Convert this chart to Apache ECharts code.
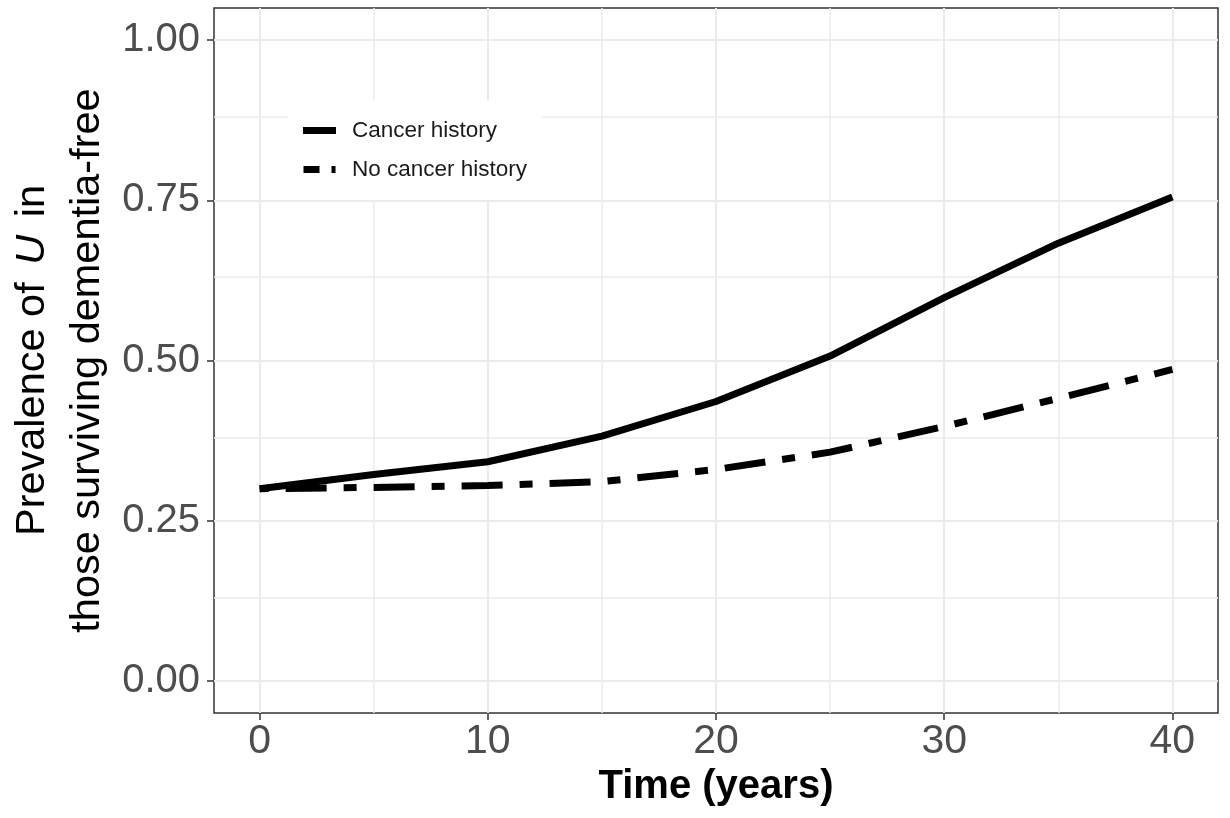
<!DOCTYPE html>
<html>
<head>
<meta charset="utf-8">
<script src="https://cdn.jsdelivr.net/npm/echarts@6/dist/echarts.min.js"></script>
<style>
  html, body { margin: 0; background: #fff; }
  #main { width: 1230px; height: 818px; }
</style>
</head>
<body>
<div id="main"></div>
<script>
// values
const years = [0, 5, 10, 15, 20, 25, 30, 35, 40];
const cancerHistory = [0.300, 0.322, 0.342, 0.382, 0.436, 0.507, 0.598, 0.683, 0.755];
const noCancerHistory = [0.300, 0.302, 0.305, 0.311, 0.330, 0.357, 0.397, 0.441, 0.486];
const xTicks = [0, 10, 20, 30, 40];
const yTicks = [0, 0.25, 0.5, 0.75, 1];
const xGrid = [0, 5, 10, 15, 20, 25, 30, 35, 40];
const yGrid = [0, 0.125, 0.25, 0.375, 0.5, 0.625, 0.75, 0.875, 1];

const font = 'Liberation Sans, Arial, sans-serif';
const myChart = echarts.init(document.getElementById('main'));

// ggplot style grid lines across the whole panel (also the expanded margins)
const gridLines = [];
xGrid.forEach(v => gridLines.push({ xAxis: v, lineStyle: { width: xTicks.includes(v) ? 2 : 1.5 } }));
yGrid.forEach(v => gridLines.push({ yAxis: v, lineStyle: { width: yTicks.includes(v) ? 2 : 1.5 } }));

const option = {
    animation: false,
    grid: {
        left: 214, top: 8, width: 1004, height: 705,
        outerBoundsMode: 'none',
        containLabel: false,
        show: true, borderColor: '#333', borderWidth: 1.5, backgroundColor: 'transparent'
    },
    legend: {
        orient: 'vertical',
        left: 288, top: 100,
        z: 10,
        backgroundColor: '#fff',
        padding: [19, 15, 19, 15],
        itemWidth: 33, itemHeight: 7, itemGap: 16,
        textStyle: { fontSize: 22.5, color: '#1a1a1a', fontFamily: font, padding: [0, 0, 0, 11] },
        data: [
            { name: 'Cancer history', icon: 'path://M0,0H33V7H0Z' },
            { name: 'No cancer history', icon: 'path://M0,0H16V7H0Z M28,0H32V7H28Z' }
        ]
    },
    xAxis: {
        type: 'value', min: -2, max: 42,
        splitLine: { show: false },
        axisLine: { show: false, onZero: false },
        axisTick: { show: true, customValues: xTicks, length: 7, lineStyle: { color: '#333', width: 1.5 } },
        axisLabel: { customValues: xTicks, fontSize: 41, color: '#4d4d4d', margin: 8, fontFamily: font },
        name: 'Time (years)',
        nameLocation: 'middle',
        nameGap: 25,
        nameTextStyle: { fontSize: 40, fontWeight: 'bold', color: '#000', fontFamily: font }
    },
    yAxis: {
        type: 'value', min: -0.05, max: 1.05,
        splitLine: { show: false },
        axisLine: { show: false, onZero: false },
        axisTick: { show: true, customValues: yTicks, length: 7, lineStyle: { color: '#333', width: 1.5 } },
        axisLabel: {
            customValues: yTicks, fontSize: 40, color: '#4d4d4d', margin: 14, fontFamily: font,
            formatter: v => v.toFixed(2)
        },
        name: '{a|Prevalence of }{u|U}{a| in}\n{a|those surviving dementia-free}',
        nameLocation: 'middle',
        nameRotate: 90,
        nameGap: 99,
        nameTextStyle: {
            rich: {
                a: { fontSize: 41.5, color: '#000', fontFamily: font, lineHeight: 55 },
                u: { fontSize: 41.5, color: '#000', fontFamily: font, lineHeight: 55, fontStyle: 'italic', padding: [0, 6, 0, 6] }
            }
        }
    },
    series: [
        {
            name: 'grid',
            type: 'line',
            data: [],
            z: 1,
            silent: true,
            markLine: {
                z: 1,
                silent: true,
                symbol: ['none', 'none'],
                label: { show: false },
                lineStyle: { color: '#ebebeb', type: 'solid' },
                data: gridLines
            }
        },
        {
            name: 'Cancer history',
            type: 'line',
            z: 3,
            symbol: 'none',
            itemStyle: { color: '#000' },
            lineStyle: { color: '#000', width: 7 },
            data: years.map((x, i) => [x, cancerHistory[i]])
        },
        {
            name: 'No cancer history',
            type: 'line',
            z: 3,
            symbol: 'none',
            itemStyle: { color: '#000' },
            lineStyle: { color: '#000', width: 7, type: [41, 17, 13, 17], dashOffset: 62 },
            data: years.map((x, i) => [x, noCancerHistory[i]])
        }
    ]
};
myChart.setOption(option);
</script>
</body>
</html>
